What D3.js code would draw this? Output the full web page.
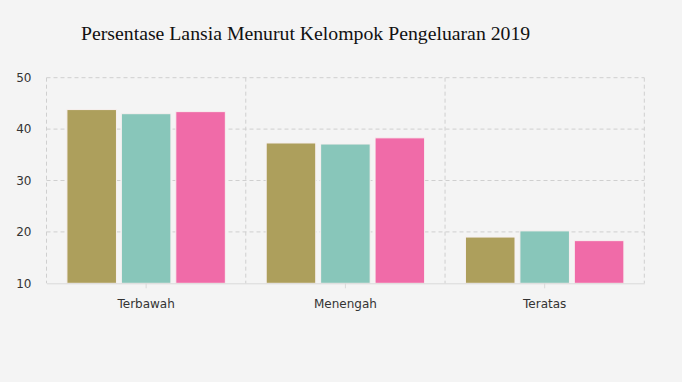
<!DOCTYPE html>
<html>
<head>
<meta charset="utf-8">
<script src="https://cdn.jsdelivr.net/npm/d3@7"></script>
<style>
  html, body { margin: 0; padding: 0; background: #f4f4f4; }
  svg { display: block; }
</style>
</head>
<body>
<svg id="chart" width="682" height="382"></svg>
<script>
const categories = ["Terbawah", "Menengah", "Teratas"];
const seriesNames = ["Seri 1", "Seri 2", "Seri 3"];
const series1 = [43.8, 37.3, 19.0];
const series2 = [43.0, 37.1, 20.2];
const series3 = [43.4, 38.3, 18.3];
const yTicks = [10, 20, 30, 40, 50];
const colors = ["#ad9f5c", "#88c6ba", "#f06ba8"];
const title = "Persentase Lansia Menurut Kelompok Pengeluaran 2019";

const svg = d3.select("#chart");
const W = 682, H = 382;
const m = { left: 46.5, right: 682 - 644.3, top: 77.7, bottom: 382 - 283.3 };
const iw = W - m.left - m.right, ih = H - m.top - m.bottom;

svg.append("rect").attr("width", W).attr("height", H).attr("fill", "#f4f4f4");

svg.append("text")
  .attr("x", 81).attr("y", 40)
  .attr("font-family", "'Liberation Serif', 'Times New Roman', serif")
  .attr("font-size", 19.75).attr("fill", "#111")
  .text(title);

const g = svg.append("g").attr("transform", `translate(${m.left},${m.top})`);

const x0 = d3.scaleBand().domain(categories).range([0, iw]).paddingInner(0).paddingOuter(0);
const x1 = d3.scaleBand().domain(seriesNames).range([0, x0.bandwidth() * 0.795]).paddingInner(0.09).paddingOuter(0);
const y = d3.scaleLinear().domain([10, 50]).range([ih, 0]);

// horizontal grid
g.append("g").selectAll("line").data(yTicks.filter(d => d > 10)).join("line")
  .attr("x1", 0).attr("x2", iw)
  .attr("y1", d => y(d)).attr("y2", d => y(d))
  .attr("stroke", "#cfcfcf").attr("stroke-dasharray", "4,3").attr("stroke-width", 1);

// vertical grid at band boundaries
const bounds = categories.map(c => x0(c)).concat([iw]);
g.append("g").selectAll("line").data(bounds).join("line")
  .attr("x1", d => d).attr("x2", d => d)
  .attr("y1", 0).attr("y2", ih)
  .attr("stroke", "#cfcfcf").attr("stroke-dasharray", "4,3").attr("stroke-width", 1);

// bars
const data = categories.map((c, i) => ({ c, vals: [series1[i], series2[i], series3[i]] }));
const groupOffset = (x0.bandwidth() - x1.range()[1]) / 2;
const grp = g.append("g").selectAll("g").data(data).join("g")
  .attr("transform", d => `translate(${x0(d.c) + groupOffset},0)`);
grp.selectAll("rect").data(d => d.vals.map((v, j) => ({ v, s: seriesNames[j], j }))).join("rect")
  .attr("x", d => x1(d.s))
  .attr("width", x1.bandwidth())
  .attr("y", d => y(d.v))
  .attr("height", d => ih - y(d.v))
  .attr("fill", d => colors[d.j])
  .attr("stroke", "#f7f0f0").attr("stroke-width", 1);

// x axis
const xAxis = g.append("g").attr("transform", `translate(0,${ih})`)
  .call(d3.axisBottom(x0).tickSize(5).tickSizeOuter(0).tickPadding(11));
xAxis.select(".domain").attr("stroke", "#d9d9d9");
xAxis.selectAll(".tick line").attr("stroke", "#d9d9d9");
xAxis.selectAll("text").attr("font-family", "'DejaVu Sans', Verdana, sans-serif").attr("font-size", 12).attr("fill", "#333");

// y axis
const yAxis = g.append("g")
  .call(d3.axisLeft(y).tickValues(yTicks).tickSize(0).tickPadding(15).tickFormat(d3.format("d")));
yAxis.select(".domain").remove();
yAxis.selectAll("text").attr("font-family", "'DejaVu Sans', Verdana, sans-serif").attr("font-size", 12).attr("fill", "#333");
</script>
</body>
</html>
